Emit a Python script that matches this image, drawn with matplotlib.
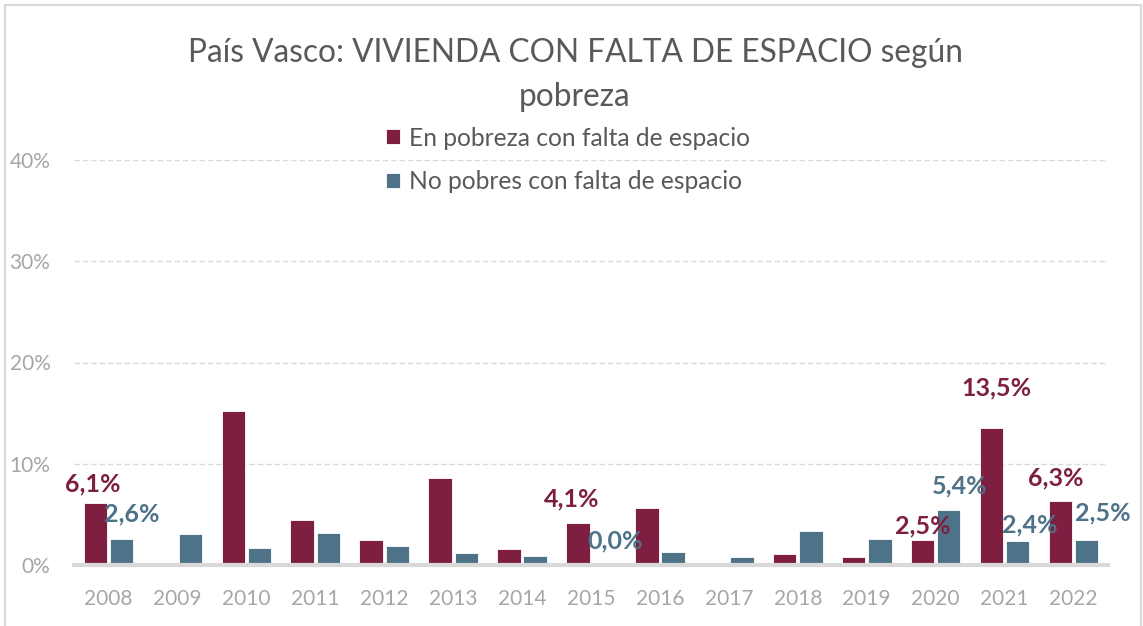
import matplotlib
matplotlib.use("Agg")
import matplotlib.pyplot as plt
import numpy as np
from matplotlib.patches import Rectangle

years = ["2008", "2009", "2010", "2011", "2012", "2013", "2014", "2015",
         "2016", "2017", "2018", "2019", "2020", "2021", "2022"]
pobres = [6.1, 0.0, 15.2, 4.4, 2.5, 8.6, 1.6, 4.1, 5.6, 0.0, 1.1, 0.8, 2.5, 13.5, 6.3]
no_pobres = [2.6, 3.1, 1.7, 3.2, 1.9, 1.2, 0.9, 0.0, 1.3, 0.8, 3.4, 2.6, 5.4, 2.4, 2.5]
series_names = ["En pobreza con falta de espacio", "No pobres con falta de espacio"]
yticks = [0, 10, 20, 30, 40]
title = "País Vasco: VIVIENDA CON FALTA DE ESPACIO según\npobreza"

# labelled points: (series index, year index, dx px, dy px)
labelled = [(0, 0, -3, 19), (1, 0, 10, 25),
            (0, 7, -6, 25), (1, 7, 11, 24),
            (0, 12, 0, 14), (1, 12, 11, 24),
            (0, 13, 5, 40), (1, 13, 12, 16),
            (0, 14, -5, 23), (1, 14, 16, 27)]

RED = "#7E1F42"
BLUE = "#4E7389"
GRID = "#d9d9d9"
TICK = "#a6a6a6"
FONT = "Lato"

plt.rcParams['font.family'] = [FONT, 'DejaVu Sans']

fig = plt.figure(figsize=(11.43, 6.26), dpi=100)
W, H = 1143, 626
ax = fig.add_axes([74 / W, (H - 565) / H, (1108 - 74) / W, (565 - 160) / H])

x = np.arange(len(years))
bw = 0.34
off = 0.19
b1 = ax.bar(x - off, pobres, bw, color=RED, edgecolor="white", linewidth=0.6,
            label=series_names[0], zorder=3)
b2 = ax.bar(x + off, no_pobres, bw, color=BLUE, edgecolor="white", linewidth=0.6,
            label=series_names[1], zorder=3)

ax.set_xlim(-0.5, len(years) - 0.5)
ax.set_ylim(0, 40)
ax.set_yticks(yticks)
ax.set_yticklabels([f"{t}%" for t in yticks])
ax.set_xticks(x)
ax.set_xticklabels(years)
ax.tick_params(axis="both", length=0, colors=TICK, labelsize=15)
ax.tick_params(axis="y", pad=17)
ax.tick_params(axis="x", pad=17)
for s in ["top", "right", "left"]:
    ax.spines[s].set_visible(False)
ax.spines["bottom"].set_color(GRID)
ax.spines["bottom"].set_linewidth(3)
ax.spines["bottom"].set_zorder(4)
ax.yaxis.grid(True, color=GRID, linestyle=(0, (4, 2)), linewidth=1, zorder=0)
ax.set_axisbelow(True)
for lab in ax.get_yticklabels():
    lab.set_horizontalalignment("right")

data = [pobres, no_pobres]
colors = [RED, BLUE]
offs = [-off, off]
for si, yi, dx, dy in labelled:
    v = data[si][yi]
    ax.annotate(f"{v:.1f}%".replace(".", ","), xy=(x[yi] + offs[si], v),
                xytext=(dx, dy), textcoords="offset pixels",
                ha="center", va="center", color=colors[si],
                fontsize=18, fontweight="bold", zorder=5)

fig.text(575 / W, 1 - 75 / H, title, ha="center", va="center",
         fontsize=22.8, color="#595959", linespacing=1.6)

leg = fig.legend(handles=[b1, b2], loc="center", bbox_to_anchor=(568 / W, 1 - 160 / H),
                 frameon=False, fontsize=17.7, handlelength=0.55, handleheight=0.55,
                 handletextpad=0.35, labelspacing=0.85, borderpad=0)
for t in leg.get_texts():
    t.set_color("#595959")

fig.patches.append(Rectangle((5 / W, -0.1), (1141 - 5) / W, 1.1 - 5 / H,
                             transform=fig.transFigure, fill=False,
                             edgecolor=GRID, linewidth=1.5))

fig.savefig("out.png", dpi=100)
